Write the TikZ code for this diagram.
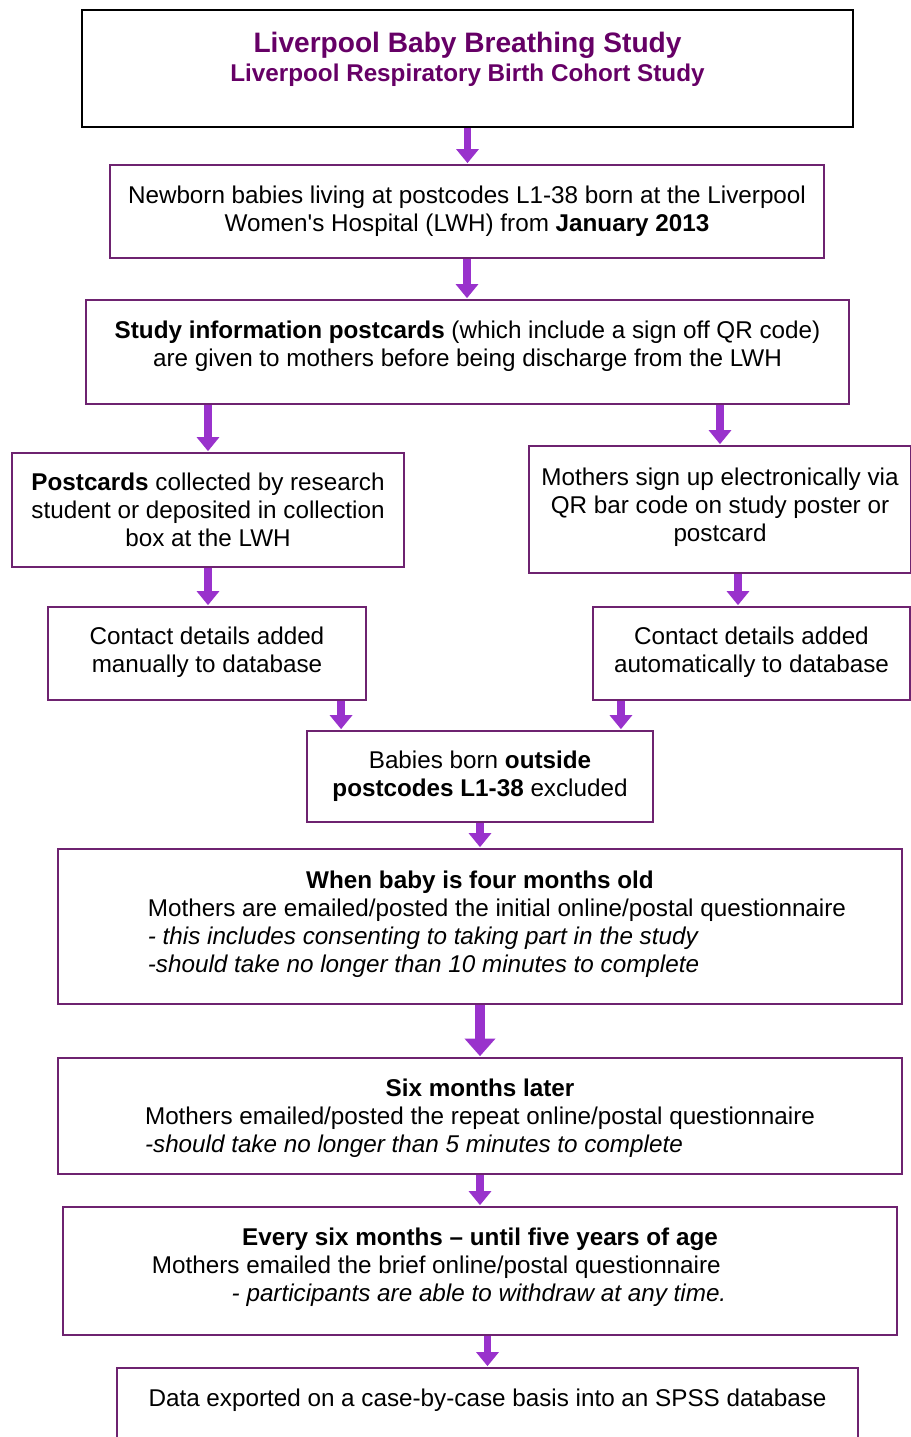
\documentclass[tikz,border=0pt]{standalone}
\usepackage{fontspec}
\setmainfont{Liberation Sans}
\usepackage{xcolor}
\usetikzlibrary{arrows.meta, positioning}

\definecolor{boxline}{HTML}{6E2370}
\definecolor{arrowc}{HTML}{9932CC}
\definecolor{titlec}{HTML}{660066}

\begin{document}
\begin{tikzpicture}[
    x=0.02cm, y=-0.02cm,
    box/.style={draw=boxline, line width=1.1pt, align=center, inner sep=2pt, font=\fontsize{13.8}{15.9}\selectfont},
    headbox/.style={box, draw=black, text=titlec, font=\fontsize{13.8}{16.4}\selectfont\bfseries},
    lift/.style={text depth=#1},
    arr/.style={draw=arrowc, line width=4.3pt, -{Triangle[width=12.5pt,length=8pt]}, shorten >=0.5pt},
    bigarr/.style={arr, line width=5.7pt, -{Triangle[width=17pt,length=10pt]}}
]
\useasboundingbox (0,0) rectangle (911,1437);

% Study title
\node[headbox, minimum width=15.42cm, minimum height=2.34cm, lift=13.2pt] (head) at (467.5,68.5)
    {{\fontsize{16}{16.4}\selectfont Liverpool Baby Breathing Study}\\ Liverpool Respiratory Birth Cohort Study};

% Recruitment
\node[box, minimum width=14.28cm, minimum height=1.86cm] (born) at (467,211.5)
    {Newborn babies living at postcodes L1-38 born at the Liverpool\\ Women\textquotesingle s Hospital (LWH) from \textbf{January 2013}};
\node[box, minimum width=15.26cm, minimum height=2.08cm, lift=9.7pt] (cards) at (467.5,352)
    {\textbf{Study information postcards} (which include a sign off QR code)\\ are given to mothers before being discharge from the LWH};

% Two sign-up routes
\node[box, minimum width=7.84cm, minimum height=2.28cm] (collect) at (208,510)
    {\textbf{Postcards} collected by research\\ student or deposited in collection\\ box at the LWH};
\node[box, minimum width=7.64cm, minimum height=2.54cm, lift=5.7pt] (online) at (720,509.5)
    {Mothers sign up electronically via\\ QR bar code on study poster or\\ postcard};
\node[box, minimum width=6.36cm, minimum height=1.86cm, lift=4.7pt] (manual) at (207,653.5)
    {Contact details added\\ manually to database};
\node[box, minimum width=6.34cm, minimum height=1.86cm, lift=4.7pt] (auto) at (751.5,653.5)
    {Contact details added\\ automatically to database};
\node[box, minimum width=6.92cm, minimum height=1.82cm, lift=2.7pt] (excl) at (480,776.5)
    {Babies born \textbf{outside}\\ \textbf{postcodes L1-38} excluded};

% Follow-up
\node[box, minimum width=16.88cm, minimum height=3.10cm, lift=6.6pt] (four) at (480,926.5)
    {\begin{tabular}[b]{@{\hspace{19.3pt}}l@{}}
     \multicolumn{1}{@{}c@{}}{\textbf{When baby is four months old}}\\
     Mothers are emailed/posted the initial online/postal questionnaire\\
     \textit{- this includes consenting to taking part in the study}\\
     \textit{-should take no longer than 10 minutes to complete}
     \end{tabular}};
\node[box, minimum width=16.88cm, minimum height=2.32cm, lift=1.4pt] (six) at (480,1116)
    {\begin{tabular}[b]{@{}l@{}}
     \multicolumn{1}{@{}c@{}}{\textbf{Six months later}}\\
     Mothers emailed/posted the repeat online/postal questionnaire\\
     \textit{-should take no longer than 5 minutes to complete}
     \end{tabular}};
\node[box, minimum width=16.68cm, minimum height=2.56cm, lift=8.2pt] (every) at (480,1271)
    {\begin{tabular}[b]{@{}l@{\hspace{46.5pt}}}
     \multicolumn{1}{@{}c@{}}{\textbf{Every six months -- until five years of age}}\\
     Mothers emailed the brief online/postal questionnaire\\
     \hspace*{45.4pt}\textit{- participants are able to withdraw at any time.}
     \end{tabular}};
\node[box, minimum width=14.82cm, minimum height=2.40cm, lift=34.7pt] (data) at (487.5,1428)
    {Data exported on a case-by-case basis into an SPSS database};

% Arrows
\draw[arr] (head.south) -- (head.south |- born.north);
\draw[arr] (born.south) -- (born.south |- cards.north);
\draw[arr] (cards.south -| collect.north) -- (collect.north);
\draw[arr] (cards.south -| online.north) -- (online.north);
\draw[arr] (collect.south) -- (collect.south |- manual.north);
\coordinate (onlineout) at ([xshift=0.36cm]online.south);
\draw[arr] (onlineout) -- (onlineout |- auto.north);
\coordinate (exclinl) at ([xshift=0.7cm]excl.north west);
\coordinate (exclinr) at ([xshift=-0.66cm]excl.north east);
\draw[arr] (exclinl |- manual.south) -- (exclinl);
\draw[arr] (exclinr |- auto.south) -- (exclinr);
\draw[arr] (excl.south) -- (excl.south |- four.north);
\draw[bigarr] (four.south) -- (four.south |- six.north);
\draw[arr] (six.south) -- (six.south |- every.north);
\draw[arr] (every.south -| data.north) -- (data.north);

\end{tikzpicture}
\end{document}
